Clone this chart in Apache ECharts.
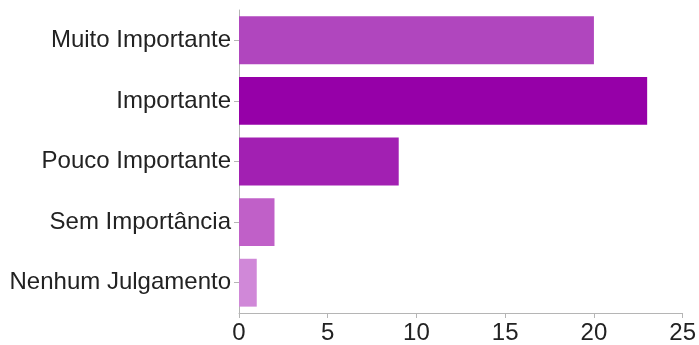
<!DOCTYPE html>
<html>
<head>
<meta charset="utf-8">
<script src="https://cdn.jsdelivr.net/npm/echarts@6/dist/echarts.min.js"></script>
<style>
  html, body { margin: 0; padding: 0; background: #fff; }
  #chart { width: 699px; height: 345px; }
</style>
</head>
<body>
<div id="chart"></div>
<script>
// Response categories, top to bottom
const categories = ['Muito Importante', 'Importante', 'Pouco Importante', 'Sem Importância', 'Nenhum Julgamento'];
// Number of responses per category
const counts = [20, 23, 9, 2, 1];
// Bar fill per category
const barColors = ['#b046be', '#9600a8', '#a220b2', '#c060c8', '#d088d8'];

const axisFont = { fontFamily: '"Liberation Sans", Arial, sans-serif', fontSize: 24, color: '#222' };

const chart = echarts.init(document.getElementById('chart'), null, { renderer: 'canvas' });
chart.setOption({
  animation: false,
  backgroundColor: '#ffffff',
  grid: { left: 239, right: 15, top: 10, bottom: 30, containLabel: false },
  xAxis: {
    type: 'value',
    min: 0,
    max: 25,
    interval: 5,
    axisLine: { show: true, lineStyle: { color: '#b5b5b5', width: 1 } },
    axisTick: { show: true, length: 5, lineStyle: { color: '#b5b5b5' } },
    splitLine: { show: false },
    axisLabel: Object.assign({ margin: 8 }, axisFont)
  },
  yAxis: {
    type: 'category',
    data: categories,
    inverse: true,
    axisLine: { show: true, lineStyle: { color: '#b5b5b5', width: 1 } },
    axisTick: { show: true, alignWithLabel: true, length: 5, lineStyle: { color: '#b5b5b5' } },
    axisLabel: Object.assign({ margin: 8 }, axisFont)
  },
  series: [{
    type: 'bar',
    data: counts.map((v, i) => ({ value: v, itemStyle: { color: barColors[i] } })),
    barCategoryGap: '21%'
  }]
});
</script>
</body>
</html>
